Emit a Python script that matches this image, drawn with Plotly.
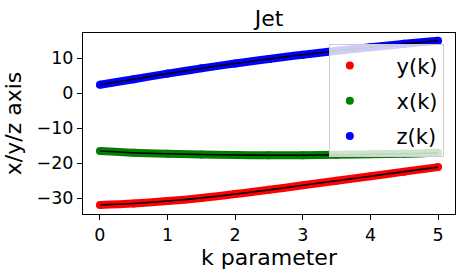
import plotly.graph_objects as go

# Data
k_values = [0.0, 0.5, 1.0, 1.5, 2.0, 2.5, 3.0, 3.5, 4.0, 4.5, 5.0]
y_of_k = [-31.9, -31.5, -30.8, -29.9, -28.8, -27.6, -26.3, -25.0, -23.7, -22.4, -21.1]
x_of_k = [-16.5, -17.0, -17.3, -17.5, -17.65, -17.7, -17.7, -17.6, -17.45, -17.3, -17.0]
z_of_k = [2.4, 4.0, 5.6, 7.1, 8.5, 9.8, 11.0, 12.1, 13.1, 14.1, 15.0]

series = [
    ("y(k)", y_of_k, "#ff0000"),
    ("x(k)", x_of_k, "#008000"),
    ("z(k)", z_of_k, "#0000ff"),
]

FONT = "DejaVu Sans"
fig = go.Figure()

for i, (name, vals, color) in enumerate(series):
    fig.add_trace(go.Scatter(
        x=k_values, y=vals, mode="lines+markers",
        line=dict(color=color, width=8, shape="spline"),
        marker=dict(color=color, size=8),
        showlegend=False, hoverinfo="skip",
    ))
    fig.add_trace(go.Scatter(
        x=[None], y=[None], mode="markers", name="\u00a0\u00a0\u00a0\u00a0" + name,
        marker=dict(color=color, size=8),
        legendgroup=f"g{i}", showlegend=True,
    ))
    fig.add_trace(go.Scatter(
        x=k_values, y=vals, mode="lines",
        line=dict(color="black", width=1.6, shape="spline"),
        showlegend=False, hoverinfo="skip",
    ))

axis_common = dict(
    showline=True, linecolor="black", linewidth=1, mirror=True,
    ticks="outside", ticklen=5, tickcolor="black", tickwidth=1,
    showgrid=False, zeroline=False, automargin=False,
    tickfont=dict(family=FONT, size=17.5, color="black"),
)

fig.update_layout(
    width=463, height=276,
    margin=dict(l=83, r=8, t=33, b=62),
    paper_bgcolor="white", plot_bgcolor="white",
    font=dict(family=FONT, color="black"),
    title=dict(text="Jet", x=0.5, xref="paper", y=1 - 18 / 276, yref="container",
               yanchor="middle", xanchor="center",
               font=dict(family=FONT, size=22, color="black")),
    xaxis=dict(range=[-0.25, 5.25], tickvals=[0, 1, 2, 3, 4, 5],
               title=dict(text="k parameter", font=dict(family=FONT, size=22), standoff=4),
               **axis_common),
    yaxis=dict(range=[-34.5, 17.2], tickvals=[-30, -20, -10, 0, 10],
               title=dict(text="x/y/z axis", font=dict(family=FONT, size=22), standoff=8),
               **axis_common),
    legend=dict(
        x=0.97, y=0.9376, xanchor="right", yanchor="top",
        bgcolor="rgba(255,255,255,0.8)", bordercolor="#cccccc", borderwidth=1,
        font=dict(family=FONT, size=21, color="black"),
        tracegroupgap=5, traceorder="grouped",
    ),
)

fig.write_html("out.html", config={"displayModeBar": False},
               post_script="document.body.style.margin='0';")
